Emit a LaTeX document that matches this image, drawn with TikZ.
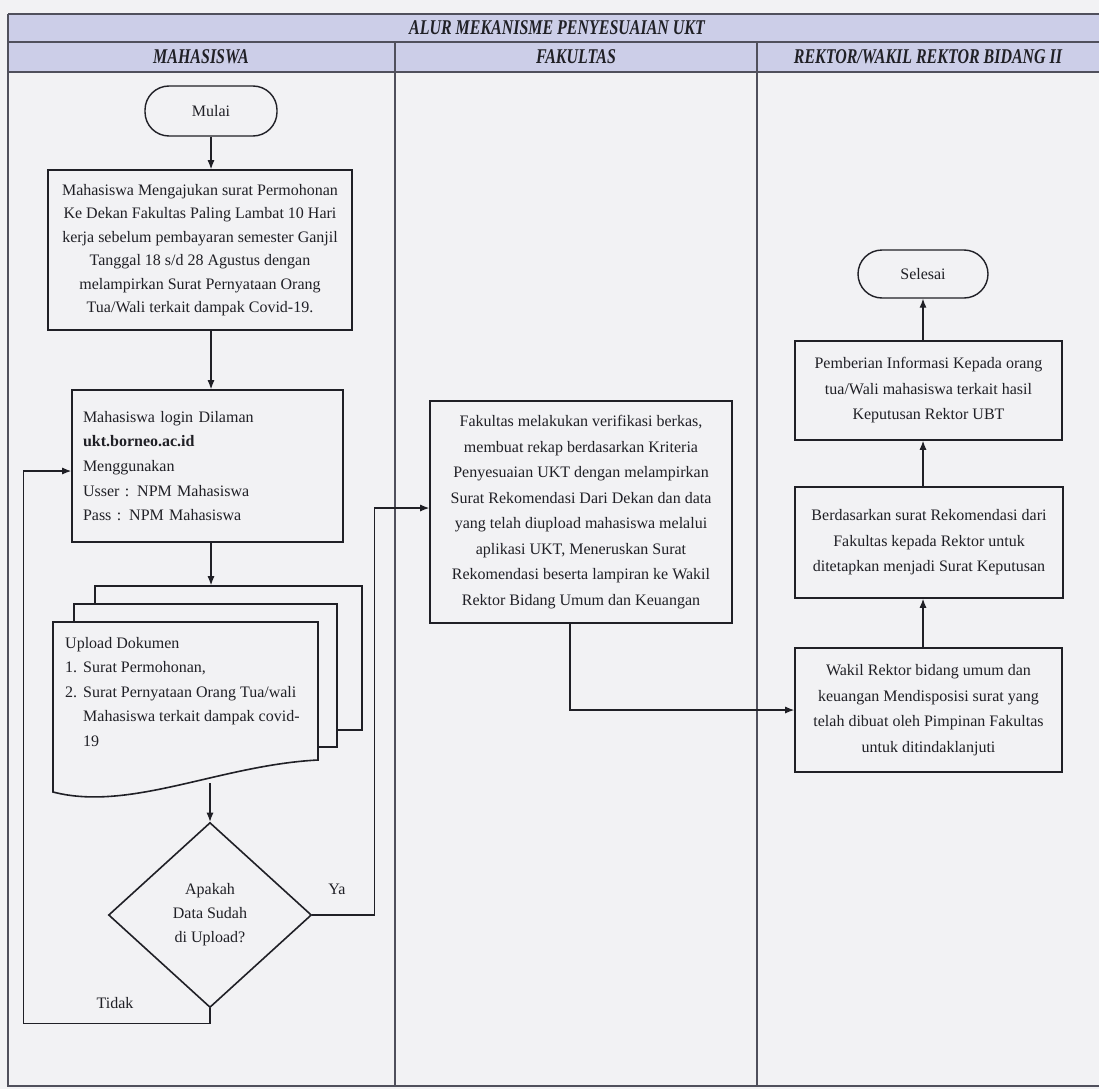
\documentclass[tikz,border=0pt]{standalone}
\usepackage{fontspec}
\setmainfont{Liberation Serif}
\newfontfamily\hdrfont[FakeStretch=0.76]{Liberation Serif}
\usetikzlibrary{arrows.meta,shapes.geometric}
\definecolor{paper}{RGB}{242,242,244}
\definecolor{hdrfill}{RGB}{204,206,232}
\definecolor{ink}{RGB}{32,32,38}
\definecolor{rule}{RGB}{80,80,92}
\begin{document}
\begin{tikzpicture}[x=1pt,y=-1pt,
  every node/.style={text=ink},
  hdr/.style={inner sep=0pt, font=\hdrfont\fontsize{21}{24}\selectfont\bfseries\itshape},
  txt/.style={font=\fontsize{16}{25}\selectfont},
  procbox/.style={draw=ink, line width=1.6pt, inner sep=0pt, align=center, font=\fontsize{16}{25.5}\selectfont},
  term/.style={draw=ink, line width=1.4pt, rounded corners=24pt, inner sep=0pt, font=\fontsize{16}{20}\selectfont},
  conn/.style={draw=ink, line width=1.1pt, -{Latex[length=9pt,width=7pt]}},
  frame/.style={draw=rule, line width=1.4pt}]
\useasboundingbox (0,0) rectangle (1099,1089);
\fill[paper] (0,0) rectangle (1099,1089);
\fill[hdrfill] (8,14) rectangle (1099,72);
% frame
\draw[frame] (8,14) -- (1099,14);
\draw[frame] (8,42) -- (1099,42);
\draw[frame] (8,72) -- (1099,72);
\draw[frame] (8,14) -- (8,1086) -- (1099,1086);
\draw[frame] (395,42) -- (395,1086);
\draw[frame] (757,42) -- (757,1086);
% headers
\node[hdr] (title) at (557,28) {ALUR MEKANISME PENYESUAIAN UKT};
\node[hdr] (hmhs) at (201,57) {MAHASISWA};
\node[hdr] (hfak) at (576,57) {FAKULTAS};
\node[hdr] (hrek) at (928,57) {REKTOR/WAKIL REKTOR BIDANG II};
% Mahasiswa lane
\node[term, minimum width=132pt, minimum height=50pt] (mulai) at (211,111) {Mulai};
\node[procbox, minimum width=304pt, minimum height=160pt, font=\fontsize{16}{23.5}\selectfont] (b1) at (200,250)
  {Mahasiswa Mengajukan surat Permohonan\\Ke Dekan Fakultas Paling Lambat 10 Hari\\kerja sebelum pembayaran semester Ganjil\\Tanggal 18 s/d 28 Agustus dengan\\melampirkan Surat Pernyataan Orang\\Tua/Wali terkait dampak Covid-19.};
\node[procbox, minimum height=152pt, text width=249pt, inner xsep=11pt, align=left, font=\fontsize{16}{24.7}\selectfont] (b2) at (207.5,466)
  {Mahasiswa login Dilaman\\\textbf{ukt.borneo.ac.id}\\Menggunakan\\Usser : NPM Mahasiswa\\Pass : NPM Mahasiswa\\[4pt]};
\node[procbox, fill=paper, minimum width=267pt, minimum height=144pt] (pg3) at (228.5,658) {};
\node[procbox, fill=paper, minimum width=263pt, minimum height=143pt] (pg2) at (205.5,675.5) {};
\draw[draw=ink, line width=1.6pt, fill=paper] (53,792) -- (53,622) -- (318,622) -- (318,760)
  .. controls (220,765) and (130,812) .. (53,792) -- cycle;
\node[anchor=north west, inner sep=0pt, align=left, font=\fontsize{16}{24.5}\selectfont] (doc) at (65,637)
  {Upload Dokumen\\\makebox[18pt][l]{1.}Surat Permohonan,\\\makebox[18pt][l]{2.}Surat Pernyataan Orang Tua/wali\\\hspace*{18pt}Mahasiswa terkait dampak covid-\\\hspace*{18pt}19};
\coordinate (wv) at (210,783);
\node[draw=ink, line width=1.6pt, diamond, minimum width=203pt, minimum height=185pt, inner sep=0pt, align=center, font=\fontsize{16}{24}\selectfont] (dec) at (210,915)
  {Apakah\\Data Sudah\\di Upload?};
\node[txt] (ya) at (337,889) {Ya};
\node[txt] (tidak) at (115,1003) {Tidak};
% Fakultas lane
\node[procbox, minimum width=302pt, minimum height=222pt] (fak) at (581,512)
  {Fakultas melakukan verifikasi berkas,\\membuat rekap berdasarkan Kriteria\\Penyesuaian UKT dengan melampirkan\\Surat Rekomendasi Dari Dekan dan data\\yang telah diupload mahasiswa melalui\\aplikasi UKT, Meneruskan Surat\\Rekomendasi beserta lampiran ke Wakil\\Rektor Bidang Umum dan Keuangan};
% Rektor lane
\node[term, minimum width=130pt, minimum height=48pt] (sel) at (923,274) {Selesai};
\node[procbox, minimum width=267pt, minimum height=99pt] (pem) at (928.5,390.5)
  {Pemberian Informasi Kepada orang\\tua/Wali mahasiswa terkait hasil\\Keputusan Rektor UBT};
\node[procbox, minimum width=268pt, minimum height=111pt] (ber) at (929,542.5)
  {Berdasarkan surat Rekomendasi dari\\Fakultas kepada Rektor untuk\\ditetapkan menjadi Surat Keputusan};
\node[procbox, minimum width=267pt, minimum height=124pt] (wak) at (928.5,710)
  {Wakil Rektor bidang umum dan\\keuangan Mendisposisi surat yang\\telah dibuat oleh Pimpinan Fakultas\\untuk ditindaklanjuti};
% connectors
\draw[conn] (mulai.south) -- (mulai.south |- b1.north);
\draw[conn] (b1.south -| mulai.south) -- (b2.north -| mulai.south);
\draw[conn] (b2.south -| mulai.south) -- (pg3.north -| mulai.south);
\draw[conn] (wv) -- (dec.north);
\draw[conn] (dec.east) -| ([xshift=-55pt,yshift=4pt]fak.west) -- ([yshift=4pt]fak.west);
\draw[conn] (dec.south) -- ++(0,15) -| ([xshift=-48pt,yshift=-5pt]b2.west) -- ([yshift=-5pt]b2.west);
\draw[conn] ([xshift=-11pt]fak.south) |- (wak.west);
\draw[conn] (wak.north -| sel.south) -- (ber.south -| sel.south);
\draw[conn] (ber.north -| sel.south) -- (pem.south -| sel.south);
\draw[conn] (pem.north -| sel.south) -- (sel.south);
\end{tikzpicture}
\end{document}
